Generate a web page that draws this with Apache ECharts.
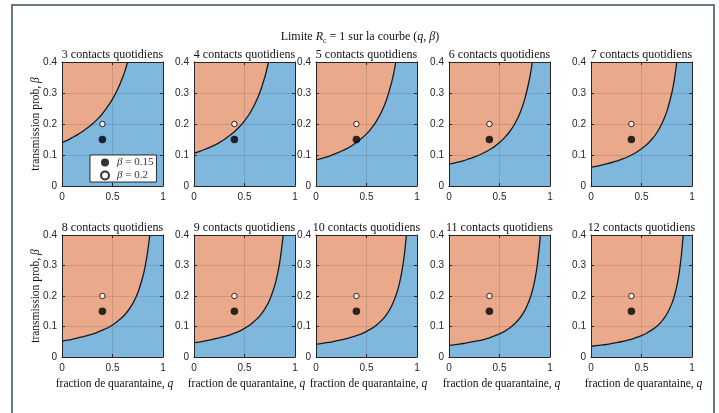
<!DOCTYPE html>
<html><head><meta charset="utf-8">
<script src="https://cdn.jsdelivr.net/npm/echarts@6/dist/echarts.min.js"></script>
<style>html,body{margin:0;padding:0;background:#fff}#c{width:719px;height:413px}</style>
</head><body><div id="c"></div>
<script>
// ---- data ----
const contacts = [3, 4, 5, 6, 7, 8, 9, 10, 11, 12];
const xTicks = [0, 0.5, 1];
const yTicks = [0, 0.1, 0.2, 0.3, 0.4];
const pointQ = 0.4;
const pointBetaFilled = 0.15;
const pointBetaOpen = 0.2;
// boundary R_c = 1 : [q, beta] for each panel
const curve3  = [[0,.140],[.05,.147],[.1,.156],[.15,.165],[.2,.175],[.25,.187],[.3,.200],[.35,.215],[.4,.233],[.45,.255],[.5,.280],[.55,.311],[.6,.350],[.625,.373],[.65,.400]];
const curve4  = [[0,.105],[.05,.111],[.1,.117],[.15,.124],[.2,.131],[.25,.140],[.3,.150],[.35,.162],[.4,.175],[.45,.191],[.5,.210],[.55,.233],[.6,.263],[.65,.300],[.7,.350],[.72,.375],[.7375,.400]];
const curve5  = [[0,.084],[.05,.088],[.1,.093],[.15,.099],[.2,.105],[.25,.112],[.3,.120],[.35,.129],[.4,.140],[.45,.153],[.5,.168],[.55,.187],[.6,.210],[.65,.240],[.7,.280],[.75,.336],[.77,.365],[.79,.400]];
const curve6  = [[0,.070],[.05,.074],[.1,.078],[.15,.082],[.2,.088],[.25,.093],[.3,.100],[.35,.108],[.4,.117],[.45,.127],[.5,.140],[.55,.156],[.6,.175],[.65,.200],[.7,.233],[.75,.280],[.8,.350],[.825,.400]];
const curve7  = [[0,.060],[.05,.063],[.1,.067],[.15,.071],[.2,.075],[.25,.080],[.3,.086],[.35,.092],[.4,.100],[.45,.109],[.5,.120],[.55,.133],[.6,.150],[.65,.171],[.7,.200],[.75,.240],[.8,.300],[.825,.343],[.85,.400]];
const curve8  = [[0,.0525],[.05,.055],[.1,.058],[.15,.062],[.2,.066],[.25,.070],[.3,.075],[.35,.081],[.4,.088],[.45,.095],[.5,.105],[.55,.117],[.6,.131],[.65,.150],[.7,.175],[.75,.210],[.8,.263],[.825,.300],[.85,.350],[.869,.400]];
const curve9  = [[0,.047],[.05,.049],[.1,.052],[.15,.055],[.2,.059],[.25,.063],[.3,.067],[.35,.072],[.4,.078],[.45,.085],[.5,.094],[.55,.104],[.6,.118],[.65,.134],[.7,.157],[.75,.188],[.8,.235],[.825,.269],[.85,.313],[.875,.376],[.8825,.400]];
const curve10 = [[0,.042],[.05,.044],[.1,.047],[.15,.049],[.2,.053],[.25,.056],[.3,.060],[.35,.065],[.4,.070],[.45,.076],[.5,.084],[.55,.093],[.6,.105],[.65,.120],[.7,.140],[.75,.168],[.8,.210],[.825,.240],[.85,.280],[.875,.336],[.895,.400]];
const curve11 = [[0,.038],[.05,.040],[.1,.042],[.15,.045],[.2,.048],[.25,.051],[.3,.054],[.35,.058],[.4,.063],[.45,.069],[.5,.076],[.55,.084],[.6,.095],[.65,.109],[.7,.127],[.75,.152],[.8,.190],[.825,.217],[.85,.253],[.875,.304],[.9,.380],[.905,.400]];
const curve12 = [[0,.035],[.05,.037],[.1,.039],[.15,.041],[.2,.044],[.25,.047],[.3,.050],[.35,.054],[.4,.058],[.45,.064],[.5,.070],[.55,.078],[.6,.088],[.65,.100],[.7,.117],[.75,.140],[.8,.175],[.825,.200],[.85,.233],[.875,.280],[.9,.350],[.9125,.400]];
const curves = [curve3, curve4, curve5, curve6, curve7, curve8, curve9, curve10, curve11, curve12];
const legendNames = ['β = 0.15', 'β = 0.2'];

// ---- layout ----
const lefts = [62, 194, 316, 449, 591];
const rowTops = [62, 235];
const rowHeights = [124, 122];
const W = 101;
const BLUE = '#7FB7DD', ORANGE = '#EBA98B', INK = '#262626';
const SERIF = '"Liberation Serif", "DejaVu Serif", serif';
const SANS = '"Liberation Sans", Arial, sans-serif';

const grid = [], xAxis = [], yAxis = [], series = [], graphic = [];
contacts.forEach((n, i) => {
  const r = Math.floor(i / 5), c = i % 5;
  const L = lefts[c], T = rowTops[r], H = rowHeights[r];
  grid.push({left: L, top: T, width: W, height: H, show: true, backgroundColor: BLUE, borderWidth: 0, containLabel: false});
  const axLine = {show: true, onZero: false, lineStyle: {color: INK, width: 1}};
  const tick = {show: true, inside: true, length: 3, lineStyle: {color: INK, width: 1}};
  xAxis.push({gridIndex: i, type: 'value', min: xTicks[0], max: xTicks[xTicks.length-1], interval: 0.5, position: 'bottom', z: 3,
    axisLine: axLine, axisTick: tick,
    axisLabel: {color: INK, fontFamily: SANS, fontSize: 10, margin: 6, formatter: v => String(+v.toFixed(2))},
    splitLine: {show: true, lineStyle: {color: 'rgba(38,38,38,0.15)', width: 1}}});
  xAxis.push({gridIndex: i, type: 'value', min: 0, max: 1, interval: 0.5, position: 'top', z: 3,
    axisLine: axLine, axisTick: tick, axisLabel: {show: false}, splitLine: {show: false}});
  yAxis.push({gridIndex: i, type: 'value', min: yTicks[0], max: yTicks[yTicks.length-1], interval: 0.1, position: 'left', z: 3,
    axisLine: axLine, axisTick: tick,
    axisLabel: {color: INK, fontFamily: SANS, fontSize: 10, margin: 5, formatter: v => String(+v.toFixed(2))},
    splitLine: {show: true, lineStyle: {color: 'rgba(38,38,38,0.15)', width: 1}}});
  yAxis.push({gridIndex: i, type: 'value', min: 0, max: 0.4, interval: 0.1, position: 'right', z: 3,
    axisLine: axLine, axisTick: tick, axisLabel: {show: false}, splitLine: {show: false}});
  series.push({type: 'line', xAxisIndex: 2*i, yAxisIndex: 2*i, data: curves[i], symbol: 'none', smooth: 0.2,
    lineStyle: {color: '#1a1a1a', width: 1.3}, areaStyle: {color: ORANGE, opacity: 1, origin: 'end'}, z: 2, silent: true});
  series.push({type: 'scatter', name: legendNames[0], xAxisIndex: 2*i, yAxisIndex: 2*i, data: [[pointQ, pointBetaFilled]],
    symbolSize: 7.5, itemStyle: {color: '#000', borderColor: '#000', borderWidth: 0}, z: 5});
  series.push({type: 'scatter', name: legendNames[1], xAxisIndex: 2*i, yAxisIndex: 2*i, data: [[pointQ, pointBetaOpen]],
    symbolSize: 5.5, itemStyle: {color: '#fff', borderColor: '#000', borderWidth: 1}, z: 5});
  graphic.push({type: 'text', x: L + W/2, y: T - 7, z: 10, style: {text: n + ' contacts quotidiens', font: '12px ' + SERIF, fill: '#111', textAlign: 'center', textVerticalAlign: 'middle'}});
  if (c === 0) {
    graphic.push({type: 'text', x: 36, y: T + H/2, rotation: Math.PI/2, z: 10, style: {
      text: '{n|transmission prob, }{i|β}', textAlign: 'center', textVerticalAlign: 'middle',
      rich: {n: {fontFamily: SERIF, fontSize: 11.5, fill: '#111'}, i: {fontFamily: SERIF, fontSize: 11.5, fontStyle: 'italic', fill: '#111'}}}});
  }
  if (r === 1) {
    graphic.push({type: 'text', x: L + W/2 + 2, y: 384, z: 10, style: {
      text: '{n|fraction de quarantaine, }{i|q}', textAlign: 'center', textVerticalAlign: 'middle',
      rich: {n: {fontFamily: SERIF, fontSize: 11.5, fill: '#111'}, i: {fontFamily: SERIF, fontSize: 11.5, fontStyle: 'italic', fill: '#111'}}}});
  }
});
graphic.push({type: 'text', x: 360, y: 37, z: 10, style: {
  text: '{n|Limite }{i|R}{s|c}{n| = 1 sur la courbe (}{i|q}{n|, }{i|β}{n|)}', textAlign: 'center', textVerticalAlign: 'middle',
  rich: {n: {fontFamily: SERIF, fontSize: 12, fill: '#111', lineHeight: 16, verticalAlign: 'middle'},
         i: {fontFamily: SERIF, fontSize: 12, fontStyle: 'italic', fill: '#111', lineHeight: 16, verticalAlign: 'middle'},
         s: {fontFamily: SERIF, fontSize: 8, fill: '#111', lineHeight: 16, verticalAlign: 'bottom'}}}});
graphic.push({type: 'rect', z: 0, shape: {x: 12, y: 5, width: 702, height: 430}, style: {fill: 'none', stroke: '#66788a', lineWidth: 2}});

const chart = echarts.init(document.getElementById('c'), null, {renderer: 'canvas'});
chart.setOption({
  animation: false,
  grid, xAxis, yAxis, series, graphic,
  legend: {
    data: legendNames, orient: 'vertical', left: 90, top: 155,
    backgroundColor: '#fff', borderColor: '#000', borderWidth: 0.8, padding: [2, 3, 1, 10],
    itemWidth: 14, itemHeight: 8, itemGap: 2, selectedMode: false, z: 20,
    formatter: name => '{i|β}{n|' + name.slice(1) + '}',
    textStyle: {rich: {i: {fontFamily: SERIF, fontSize: 11, fontStyle: 'italic', color: '#333'}, n: {fontFamily: SERIF, fontSize: 11, color: '#333'}}}
  }
});
</script></body></html>
